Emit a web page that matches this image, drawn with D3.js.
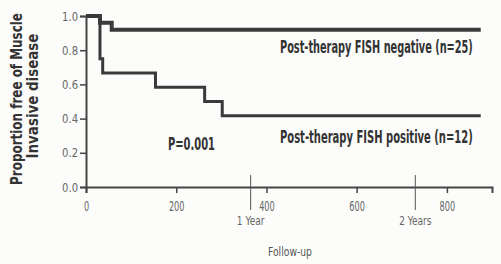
<!DOCTYPE html>
<html>
<head>
<meta charset="utf-8">
<script src="https://cdn.jsdelivr.net/npm/d3@7"></script>
<style>
  body { margin: 0; background: #fcfcfa; }
  svg { display: block; }
  text { font-family: "Liberation Sans Narrow", "DejaVu Sans Condensed", sans-serif; }
  .tick text { font-size: 13px; fill: #666; }
  .lbl { font-weight: bold; fill: #333; }
</style>
</head>
<body>
<svg width="501" height="264"></svg>
<script>
// Kaplan-Meier steps: day of change, proportion after that day
var negDays  = [0, 31, 57, 875];
var negProp  = [1.0, 0.96, 0.92, 0.92];
var posDays  = [0, 31, 37, 154, 263, 302, 875];
var posProp  = [1.0, 0.75, 0.667, 0.583, 0.5, 0.417, 0.417];

var xTicks = [0, 200, 400, 600, 800];
var yTicks = [0.0, 0.2, 0.4, 0.6, 0.8, 1.0];
var yearMarks = [{day: 365, label: "1 Year"}, {day: 730, label: "2 Years"}];

var negLabel = "Post-therapy FISH negative (n=25)";
var posLabel = "Post-therapy FISH positive (n=12)";
var pLabel = "P=0.001";
var yTitle = ["Proportion free of Muscle", "Invasive disease"];
var xTitle = "Follow-up";

var svg = d3.select("svg"),
    margin = {top: 16, right: 9, bottom: 77, left: 86},
    width = +svg.attr("width") - margin.left - margin.right,
    height = +svg.attr("height") - margin.top - margin.bottom,
    g = svg.append("g").attr("transform", "translate(" + margin.left + "," + margin.top + ")");

var x = d3.scaleLinear().domain([0, 900]).range([0, width]);
var y = d3.scaleLinear().domain([0, 1]).range([height, 0]);

// squeeze short text to a narrow width (the original uses a condensed face)
function fit(sel, perChar) {
    sel.each(function() {
        var t = d3.select(this);
        t.attr("textLength", t.text().length * perChar).attr("lengthAdjust", "spacingAndGlyphs");
    });
}

// place a text at (px,py), squeezed horizontally to width w
function squeezed(parent, px, py, w, rot) {
    var t = parent.append("text").attr("x", 0).attr("y", 0);
    t.place = function() {
        var nat = t.node().getComputedTextLength();
        var tr = "translate(" + px + "," + py + ")" + (rot ? " rotate(" + rot + ")" : "") +
                 " scale(" + (w / nat) + ",1)";
        t.attr("transform", tr);
        return t;
    };
    return t;
}

function toSteps(days, prop) {
    return days.map(function(d, i) { return {day: d, p: prop[i]}; });
}

var line = d3.line()
    .curve(d3.curveStepAfter)
    .x(function(d) { return x(d.day); })
    .y(function(d) { return y(d.p); });

// Axes
var xAxis = g.append("g")
    .attr("transform", "translate(0," + height + ")")
    .call(d3.axisBottom(x).tickValues(xTicks).tickSize(6).tickFormat(d3.format("d")));
xAxis.select(".domain").attr("stroke", "#444").attr("stroke-width", 2);
xAxis.selectAll(".tick line").attr("stroke", "#444").attr("stroke-width", 1.5);
xAxis.selectAll(".tick text").attr("y", 11).attr("dy", "0.9em").style("font-size", "14px").call(fit, 5.2);

var yAxis = g.append("g")
    .call(d3.axisLeft(y).tickValues(yTicks).tickSize(6).tickFormat(d3.format(".1f")));
yAxis.select(".domain").attr("stroke", "#444").attr("stroke-width", 2);
yAxis.selectAll(".tick line").attr("stroke", "#444").attr("stroke-width", 1.5);
yAxis.selectAll(".tick text").attr("x", -8).style("font-size", "13px").call(fit, 5.3);

// Year markers
yearMarks.forEach(function(m) {
    g.append("line")
        .attr("x1", x(m.day)).attr("x2", x(m.day))
        .attr("y1", height - 12).attr("y2", height + 23)
        .attr("stroke", "#555").attr("stroke-width", 1);
    g.append("text")
        .attr("x", x(m.day)).attr("y", height + 38)
        .attr("text-anchor", "middle")
        .style("font-size", "13px").style("fill", "#666")
        .text(m.label)
        .call(fit, 4.6);
});

// Curves
g.append("path")
    .datum(toSteps(posDays, posProp))
    .attr("fill", "none").attr("stroke", "#3a3a3a").attr("stroke-width", 3)
    .attr("d", line);

g.append("path")
    .datum(toSteps(negDays, negProp))
    .attr("fill", "none").attr("stroke", "#3a3a3a").attr("stroke-width", 4)
    .attr("d", line);

// Labels
squeezed(svg, 280, 53, 193).attr("class", "lbl").style("font-size", "17px").text(negLabel).place();
squeezed(svg, 280, 143, 193).attr("class", "lbl").style("font-size", "17px").text(posLabel).place();
squeezed(svg, 168, 150, 47).attr("class", "lbl").style("font-size", "17px").text(pLabel).place();

// Axis titles
squeezed(svg, 22, 99, 172, -90).attr("class", "lbl").attr("text-anchor", "middle")
    .style("font-size", "15px").text(yTitle[0]).place();
squeezed(svg, 38, 96, 125, -90).attr("class", "lbl").attr("text-anchor", "middle")
    .style("font-size", "15px").text(yTitle[1]).place();

squeezed(svg, 290, 256, 44).attr("text-anchor", "middle")
    .style("font-size", "13px").style("fill", "#555").text(xTitle).place();
</script>
</body>
</html>
